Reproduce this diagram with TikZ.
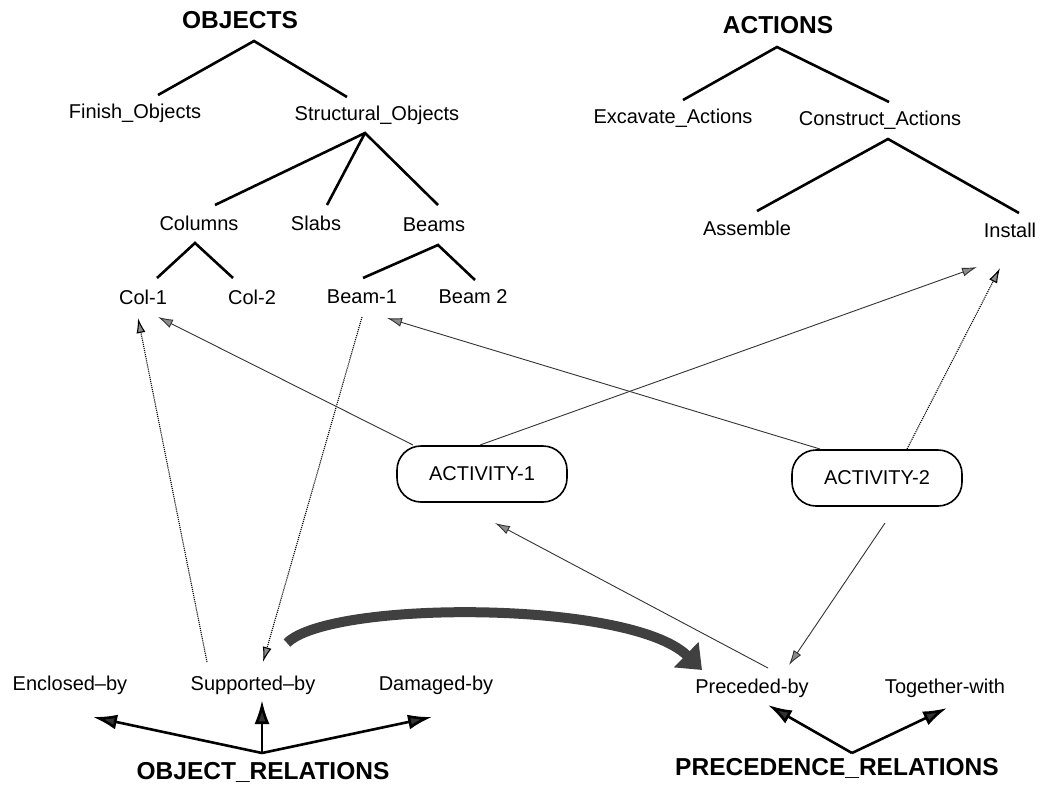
\documentclass[tikz,border=0pt]{standalone}
\usepackage{fontspec}
\setmainfont{Liberation Sans}
\usetikzlibrary{arrows.meta,calc}

\begin{document}
\begin{tikzpicture}[x=1pt,y=-1pt,
  lbl/.style={font=\fontsize{20}{24}\selectfont,inner sep=2pt},
  head/.style={font=\fontsize{24.5}{28}\selectfont\bfseries,inner sep=2pt},
  activity/.style={lbl,draw,line width=1.6pt,rounded corners=24pt,minimum width=170pt,minimum height=56pt},
  tree/.style={line width=2.6pt},
  link/.style={draw=black!80,line width=0.9pt,-{Latex[length=15pt,width=9pt,fill=black!45]}},
  dotlink/.style={link,draw=black,line width=1.1pt,densely dotted},
  rel/.style={line width=2.6pt,-{Latex[length=24pt,width=15pt,fill=black!80]}},
  flow/.style={draw=black!75,line width=10pt,-{Triangle[length=22pt,width=34pt]}}]
\newcommand{\wid}{1041}
\newcommand{\hgt}{798}
\useasboundingbox (0,0) rectangle (\wid,\hgt);

\node[head] (objects) at (240,20) {OBJECTS};
\node[lbl] (finish) at (135,113) {Finish\_Objects};
\node[lbl] (structural) at (377,115) {Structural\_Objects};
\node[lbl] (columns) at (199,223) {Columns};
\node[lbl] (slabs) at (316,223) {Slabs};
\node[lbl] (beams) at (434,225) {Beams};
\node[lbl] (col1) at (143,297) {Col-1};
\node[lbl] (col2) at (252,297) {Col-2};
\node[lbl] (beam1) at (362,297) {Beam-1};
\node[lbl] (beam2) at (473,297) {Beam 2};

\node[head] (actions) at (778,25) {ACTIONS};
\node[lbl] (excavate) at (673,118) {Excavate\_Actions};
\node[lbl] (construct) at (880,120) {Construct\_Actions};
\node[lbl] (assemble) at (747,228) {Assemble};
\node[lbl] (install) at (1010,230) {Install};

\node[activity] (act1) at (482,474) {ACTIVITY-1};
\node[activity] (act2) at (877,478) {ACTIVITY-2};

\node[lbl] (enclosed) at (70,685) {Enclosed--by};
\node[lbl] (supported) at (253,685) {Supported--by};
\node[lbl] (damaged) at (436,685) {Damaged-by};
\node[head] (objrel) at (263,772) {OBJECT\_RELATIONS};
\node[lbl] (preceded) at (752,688) {Preceded-by};
\node[lbl] (together) at (945,688) {Together-with};
\node[head] (precrel) at (837,768) {PRECEDENCE\_RELATIONS};

\draw[tree] ($(finish)+(23,-18)$) -- ($(objects)+(14,21)$) -- ($(structural)+(-30,-18)$);
\draw[tree] ($(columns)+(16,-18)$) -- ($(structural)+(-12,18)$) -- ($(beams)+(4,-20)$);
\draw[tree] ($(structural)+(-12,18)$) -- ($(slabs)+(11,-18)$);
\draw[tree] ($(col1)+(14,-19)$) -- ($(columns)+(-4,20)$) -- ($(col2)+(-19,-19)$);
\draw[tree] ($(beam1)+(1,-19)$) -- ($(beams)+(4,20)$) -- ($(beam2)+(2,-17)$);
\draw[tree] ($(excavate)+(10,-18)$) -- ($(actions)+(-1,22)$) -- ($(construct)+(9,-18)$);
\draw[tree] ($(assemble)+(10,-17)$) -- ($(construct)+(8,19)$) -- ($(install)+(9,-17)$);

\draw[dotlink] ($(supported)+(-46,-23)$) -- ($(col1)+(-5,21)$);
\draw[dotlink] ($(beam1)+(0,20)$) -- ($(supported)+(10,-23)$);
\draw[link] ($(act1)+(-69,-29)$) -- ($(col1)+(15,20)$);
\draw[link] ($(act1)+(-2,-29)$) -- ($(install)+(-33,37)$);
\draw[link] ($(act2)+(-57,-29)$) -- ($(beam1)+(25,21)$);
\draw[dotlink] ($(act2)+(30,-29)$) -- ($(install)+(-10,38)$);
\draw[link] ($(preceded)+(16,-20)$) -- ($(act1)+(13,49)$);
\draw[link] ($(act2)+(8,45)$) -- ($(preceded)+(37,-23)$);

\draw[flow] ($(supported)+(34,-42)$) .. controls (330,600) and (630,600) .. ($(preceded)+(-50,-18)$);

\draw[rel] ($(objrel)+(-1,-19)$) -- ($(enclosed)+(23,32)$);
\draw[rel] ($(objrel)+(-1,-19)$) -- ($(supported)+(9,15)$);
\draw[rel] ($(objrel)+(-1,-19)$) -- ($(damaged)+(-4,32)$);
\draw[rel] ($(precrel)+(15,-15)$) -- ($(preceded)+(16,17)$);
\draw[rel] ($(precrel)+(15,-15)$) -- ($(together)+(2,20)$);
\end{tikzpicture}
\end{document}
